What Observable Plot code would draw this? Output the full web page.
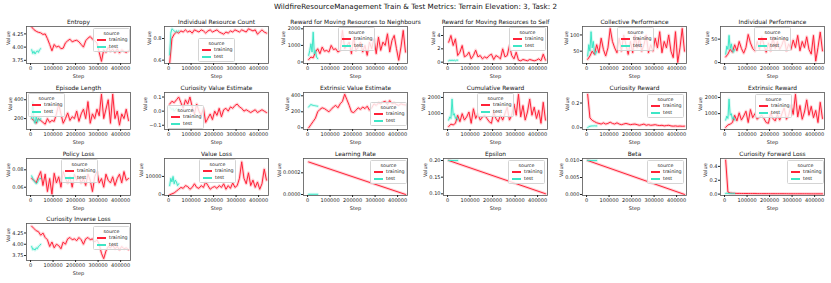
<!DOCTYPE html>
<html><head><meta charset="utf-8">
<script src="https://cdn.jsdelivr.net/npm/d3@7"></script>
<script src="https://cdn.jsdelivr.net/npm/@observablehq/plot@0.6"></script>
<style>
body{margin:0;background:#fff;font-family:"DejaVu Sans",sans-serif;}
#root{position:relative;width:831px;height:283px;overflow:hidden;background:#fff;}
#maintitle{position:absolute;left:0;width:831px;top:2px;text-align:center;font-size:7.2px;color:#111;}
.panel{position:absolute;}
.legend{position:absolute;width:35px;height:22px;border:0.7px solid #d4d4d4;border-radius:1.5px;background:rgba(255,255,255,0.8);font-size:4.8px;color:#222;}
.legend .t{position:absolute;left:0;width:100%;text-align:center;}
.legend .sw{position:absolute;left:3px;width:9px;height:1.5px;}
.legend .lb{position:absolute;left:15px;}
</style></head>
<body><div id="root"><div id="maintitle">WildfireResourceManagement Train &amp; Test Metrics: Terrain Elevation: 3, Task: 2</div></div>
<script>
const xTicks = [0, 100000, 200000, 300000, 400000];
const trainSteps = [5000,15000,25000,35000,45000,55000,65000,75000,85000,95000,105000,115000,125000,135000,145000,155000,165000,175000,185000,195000,205000,215000,225000,235000,245000,255000,265000,275000,285000,295000,305000,315000,325000,335000,345000,355000,365000,375000,385000,395000,405000,415000,425000,435000];
const testSteps = [5000,10000,15000,20000,25000,30000,35000,40000,45000];
const linTrainSteps = [5000, 435000];
const linTestSteps = [5000, 45000];

const entropyTrain = [4.38,4.33,4.30,4.28,4.27,4.24,4.25,4.16,4.05,3.93,4.05,4.00,4.02,3.97,3.98,4.08,4.12,4.15,4.10,4.12,4.13,4.10,4.05,4.00,4.12,4.17,4.20,4.15,4.12,4.08,3.90,3.73,3.95,3.90,4.00,3.92,3.96,3.90,3.97,3.89,3.95,3.92,3.90,3.93];
const entropyTest = [3.95,3.88,3.92,3.87,3.91,3.93,3.90,3.95,3.97];
const ircTrain = [0.57,0.80,0.84,0.86,0.85,0.87,0.86,0.88,0.86,0.87,0.85,0.88,0.87,0.86,0.88,0.87,0.85,0.87,0.88,0.86,0.87,0.88,0.86,0.85,0.84,0.86,0.85,0.87,0.86,0.88,0.87,0.86,0.88,0.87,0.86,0.89,0.88,0.87,0.88,0.84,0.86,0.88,0.86,0.85];
const ircTest = [0.65,0.85,0.89,0.88,0.87,0.86,0.87,0.86,0.87];
const neighTrain = [150,300,250,600,800,500,900,650,700,600,1000,750,800,600,700,1900,800,1000,1200,500,1500,700,900,1200,600,1000,400,1200,800,1400,500,1500,700,1200,1000,1700,600,1300,1600,800,100,900,1900,600];
const neighTest = [400,700,1100,600,1800,500,700,300,200];
const selfTrain = [3.0,4.0,2.5,3.5,1.0,1.5,2.5,0.8,1.0,1.5,0.5,1.0,1.8,0.8,1.0,0.5,0.8,0.6,1.0,1.2,0.4,1.0,0.8,0.5,2.0,0.8,1.0,2.5,1.0,0.5,1.5,0.3,0.2,0.4,0.3,0.2,0.4,0.3,0.2,0.3,0.5,0.2,1.2,0.3];
const selfTest = [0.2,0.3,0.25,0.3,0.25,0.3,0.2,0.3,0.3];
const collTrain = [25,35,50,40,70,45,90,55,35,60,120,80,60,45,90,50,100,70,40,80,45,100,60,90,50,70,100,45,70,50,90,60,110,45,80,60,100,50,30,110,15,60,120,50];
const collTest = [35,70,50,110,60,80,45,40,50];
const indPerfTrain = [12,18,28,22,38,25,45,30,20,32,60,42,30,25,45,28,55,38,22,42,25,55,30,45,28,38,52,25,40,28,48,32,58,25,45,32,55,28,18,58,3,32,65,25];
const indPerfTest = [18,35,28,58,30,40,25,22,28];
const epLenTrain = [200,180,150,200,180,160,140,200,160,180,170,250,350,250,150,200,260,180,220,200,280,170,250,300,200,380,150,250,200,300,230,460,200,300,400,150,460,200,280,130,250,200,300,180];
const epLenTest = [200,380,180,150,220,160,200,180,200];
const cveTrain = [0.05,0.07,0.06,0.08,0.10,0.06,0.02,0.08,0.05,0.10,0.03,-0.02,0.05,0.00,-0.03,0.02,-0.08,-0.05,-0.02,-0.06,0.00,-0.03,0.02,-0.04,0.01,0.02,0.00,0.03,0.02,0.04,0.05,0.03,0.02,0.00,0.01,0.00,-0.01,0.00,0.01,-0.01,0.00,0.01,0.00,-0.01];
const cveTest = [0.03,0.02,0.01,0.02,0.00,0.01,0.02,0.01,0.02];
const eveTrain = [0,40,80,120,200,230,250,240,220,200,230,260,280,250,300,330,420,350,280,200,190,220,250,230,260,240,270,220,250,300,280,310,300,320,330,290,340,300,310,290,280,300,290,285];
const eveTest = [260,280,290,285,280,278,275,272,270];
const cumTrain = [200,350,300,400,900,500,1000,600,800,1100,400,1300,700,1000,600,800,900,700,500,400,1100,700,500,900,600,1000,1400,600,900,1600,900,2200,800,1500,600,1100,1900,900,1400,700,1200,400,1700,600];
const cumTest = [600,800,700,1900,900,1000,700,800,600];
const curRewTrain = [0.27,0.08,0.06,0.05,0.04,0.035,0.03,0.04,0.03,0.035,0.045,0.035,0.03,0.04,0.03,0.025,0.03,0.035,0.03,0.025,0.028,0.03,0.025,0.02,0.025,0.03,0.02,0.025,0.02,0.022,0.025,0.02,0.018,0.02,0.015,0.018,0.02,0.015,0.013,0.015,0.012,0.014,0.012,0.013];
const curRewTest = [0.000,0.010,0.012,0.014,0.015,0.015,0.016,0.015,0.015];
const extRewTrain = [150,300,350,450,900,550,1050,600,850,1150,450,1250,750,1000,650,800,900,700,450,400,1050,700,550,950,600,1000,1350,650,900,1550,950,2200,800,1500,650,1100,1850,900,1450,750,1200,450,1700,700];
const extRewTest = [600,850,700,1900,900,1000,650,800,600];
const polTrain = [0.070,0.068,0.065,0.072,0.078,0.062,0.075,0.055,0.070,0.052,0.076,0.065,0.072,0.060,0.078,0.070,0.065,0.072,0.060,0.075,0.068,0.072,0.065,0.070,0.062,0.075,0.068,0.055,0.072,0.078,0.065,0.070,0.060,0.075,0.068,0.065,0.072,0.062,0.070,0.075,0.065,0.078,0.068,0.070];
const polTest = [0.073,0.070,0.067,0.066,0.064,0.065,0.068,0.070,0.070];
const vlTrain = [0,500,1000,2000,3000,4000,3500,5000,4500,3000,4000,6000,4000,3500,5000,4000,7000,5000,3000,4000,4500,3500,5000,4000,6000,3000,5000,3500,6500,4000,5000,9000,18000,9000,6000,12000,5000,8000,4000,7000,3000,6000,14000,8000];
const vlTest = [5000,9000,7000,10000,6000,8000,7000,5000,6000];
const lrTrain = [0.0003, 0.0000007];
const lrTest = [0.000002, 0.000002];
const epsTrain = [0.2, 0.1003];
const epsTest = [0.2, 0.2];
const betaTrain = [0.01, 0.00001];
const betaTest = [0.01, 0.01];
const cflTrain = [0.49,0.03,0.015,0.012,0.011,0.010,0.010,0.009,0.009,0.009,0.008,0.008,0.008,0.008,0.007,0.007,0.007,0.007,0.007,0.007,0.006,0.006,0.006,0.006,0.006,0.006,0.006,0.006,0.005,0.005,0.005,0.005,0.005,0.005,0.005,0.005,0.005,0.004,0.004,0.004,0.004,0.004,0.004,0.004];
const cflTest = [0.010,0.012,0.011,0.010,0.010,0.011,0.010,0.010,0.010];
const cilTrain = [4.40,4.35,4.30,4.28,4.20,4.25,4.15,4.10,3.95,4.05,3.92,4.00,3.97,3.90,4.05,4.00,4.12,4.15,4.10,4.12,4.08,4.15,4.10,4.00,4.12,4.15,4.10,4.12,4.05,4.10,4.00,3.80,3.68,3.85,3.95,3.92,3.98,3.90,3.95,3.88,3.95,3.90,3.92,3.88];
const cilTest = [3.95,3.88,3.90,3.87,3.92,3.90,3.95,3.97,4.00];

const TRAIN = "#ff2238", TEST = "#3de6c6";

const panels = [
 {title:"Entropy", tr:entropyTrain, te:entropyTest, dom:[3.69,4.39], ticks:[3.75,4.00,4.25], fmt:".2f", leg:[93,28]},
 {title:"Individual Resource Count", tr:ircTrain, te:ircTest, dom:[0.569,0.911], ticks:[0.6,0.8], fmt:".1f", leg:[198,38]},
 {title:"Reward for Moving Resources to Neighbours", tr:neighTrain, te:neighTest, dom:[-90,2140], ticks:[0,1000,2000], fmt:"d", leg:[338,27]},
 {title:"Reward for Moving Resources to Self", tr:selfTrain, te:selfTest, dom:[-0.2,5.35], ticks:[0,2,4], fmt:"d", leg:[509,27]},
 {title:"Collective Performance", tr:collTrain, te:collTest, dom:[12,126], ticks:[50,100], fmt:"d", leg:[617,27]},
 {title:"Individual Performance", tr:indPerfTrain, te:indPerfTest, dom:[-2,77], ticks:[0,50], fmt:"d", leg:[754,27]},
 {title:"Episode Length", tr:epLenTrain, te:epLenTest, dom:[84,477], ticks:[200,400], fmt:"d", leg:[28,93]},
 {title:"Curiosity Value Estimate", tr:cveTrain, te:cveTest, dom:[-0.13,0.132], ticks:[-0.1,0.0,0.1], fmt:".1f", leg:[167,105]},
 {title:"Extrinsic Value Estimate", tr:eveTrain, te:eveTest, dom:[-21,441], ticks:[0,200,400], fmt:"d", leg:[370,102]},
 {title:"Cumulative Reward", tr:cumTrain, te:cumTest, dom:[18,2307], ticks:[1000,2000], fmt:"d", leg:[477,93]},
 {title:"Curiosity Reward", tr:curRewTrain, te:curRewTest, dom:[-0.014,0.285], ticks:[0.0,0.2], fmt:".1f", leg:[647,94]},
 {title:"Extrinsic Reward", tr:extRewTrain, te:extRewTest, dom:[18,2307], ticks:[1000,2000], fmt:"d", leg:[755,94]},
 {title:"Policy Loss", tr:polTrain, te:polTest, dom:[0.0505,0.093], ticks:[0.06,0.08], fmt:".2f", leg:[61,159]},
 {title:"Value Loss", tr:vlTrain, te:vlTest, dom:[-400,19800], ticks:[0,10000], fmt:"d", leg:[199,159]},
 {title:"Learning Rate", tr:lrTrain, te:lrTest, trX:linTrainSteps, teX:linTestSteps, dom:[-0.0000092,0.000332], ticks:[0,0.0002], fmt:".4f", leg:[370,160]},
 {title:"Epsilon", tr:epsTrain, te:epsTest, trX:linTrainSteps, teX:linTestSteps, dom:[0.095,0.206], ticks:[0.10,0.15,0.20], fmt:".2f", leg:[508,160]},
 {title:"Beta", tr:betaTrain, te:betaTest, trX:linTrainSteps, teX:linTestSteps, dom:[-0.0003,0.0106], ticks:[0,0.005,0.010], fmt:".3f", leg:[647,160]},
 {title:"Curiosity Forward Loss", tr:cflTrain, te:cflTest, dom:[-0.02,0.514], ticks:[0,0.2,0.4], fmt:".1f", leg:[787,160]},
 {title:"Curiosity Inverse Loss", tr:cilTrain, te:cilTest, dom:[3.64,4.46], ticks:[3.75,4.00,4.25], fmt:".2f", leg:[93,226]}
];

const colLefts = [26,164,303,443,582,720];
const rowTops = [26,92,158,223];
const FW = 104, FH = 37;
const ML = 36, MR = 6, MT = 14, MB = 22;

const ctx = document.createElement("canvas").getContext("2d");
ctx.font = "5px 'DejaVu Sans'";

const root = document.getElementById("root");

panels.forEach((p, i) => {
  const col = i % 6, row = Math.floor(i / 6);
  const trX = p.trX || trainSteps, teX = p.teX || testSteps;
  const trData = p.tr.map((v, k) => ({step: trX[k], value: v})).filter(d => d.step !== undefined);
  const teData = p.te.map((v, k) => ({step: teX[k], value: v})).filter(d => d.step !== undefined);
  const f = d3.format(p.fmt);
  const maxW = d3.max(p.ticks, t => ctx.measureText(f(t)).width);
  const chart = Plot.plot({
    width: ML + FW + MR, height: MT + FH + MB,
    marginLeft: ML, marginRight: MR, marginTop: MT, marginBottom: MB,
    style: {fontFamily: "DejaVu Sans", fontSize: "5px", background: "transparent", color: "#222", overflow: "visible"},
    x: {domain: [-18000, 444000]},
    y: {domain: p.dom},
    marks: [
      Plot.line(trData, {x: "step", y: "value", stroke: TRAIN, strokeWidth: 3, strokeOpacity: 0.2, clip: true}),
      Plot.line(teData, {x: "step", y: "value", stroke: TEST, strokeWidth: 3, strokeOpacity: 0.2, clip: true}),
      Plot.line(trData, {x: "step", y: "value", stroke: TRAIN, strokeWidth: 1, clip: true}),
      Plot.line(teData, {x: "step", y: "value", stroke: TEST, strokeWidth: 1, clip: true}),
      Plot.frame({stroke: "#555", strokeWidth: 0.8}),
      Plot.axisX({ticks: xTicks, tickFormat: d3.format("d"), tickSize: 2, tickPadding: 1, label: null, fontSize: 5}),
      Plot.axisY({ticks: p.ticks, tickFormat: f, tickSize: 2, tickPadding: 1, label: null, fontSize: 5}),
      Plot.text([p.title], {frameAnchor: "top", dy: -3, lineAnchor: "bottom", fontSize: 5.9, fill: "#111"}),
      Plot.text(["Step"], {frameAnchor: "bottom", dy: 13, lineAnchor: "middle", fontSize: 5}),
      Plot.text(["Value"], {frameAnchor: "left", rotate: -90, dx: -(maxW + 7), lineAnchor: "middle", fontSize: 5})
    ]
  });
  const wrap = document.createElement("div");
  wrap.className = "panel";
  wrap.style.left = (colLefts[col] - ML) + "px";
  wrap.style.top = (rowTops[row] - MT) + "px";
  wrap.appendChild(chart);
  root.appendChild(wrap);

  const lg = document.createElement("div");
  lg.className = "legend";
  lg.style.left = p.leg[0] + "px";
  lg.style.top = p.leg[1] + "px";
  lg.innerHTML = `<div class="t" style="top:1.5px">source</div>
    <div class="sw" style="top:10px;background:${TRAIN}"></div><div class="lb" style="top:8px">training</div>
    <div class="sw" style="top:17px;background:${TEST}"></div><div class="lb" style="top:14.5px">test</div>`;
  root.appendChild(lg);
});
</script>
</body></html>
